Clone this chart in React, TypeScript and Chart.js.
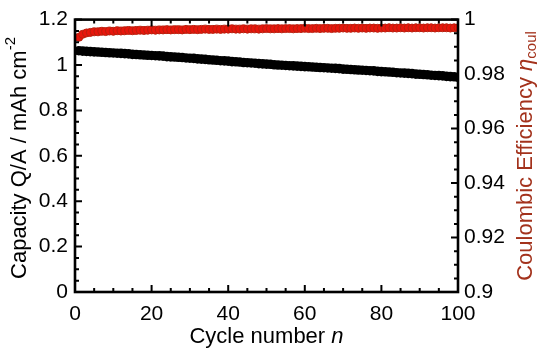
import React, { useEffect, useRef } from "react";
import { Chart, registerables } from "chart.js";

Chart.register(...registerables);

const cycles: number[] = Array.from({ length: 100 }, (_, i) => i + 1);

const capacity: number[] = [
  1.063, 1.061, 1.06, 1.059, 1.058, 1.057, 1.056, 1.055, 1.054, 1.053,
  1.052, 1.051, 1.05, 1.049, 1.047, 1.046, 1.045, 1.044, 1.043, 1.042,
  1.041, 1.04, 1.039, 1.037, 1.036, 1.035, 1.034, 1.033, 1.031, 1.03,
  1.029, 1.027, 1.026, 1.025, 1.023, 1.022, 1.021, 1.019, 1.018, 1.017,
  1.015, 1.014, 1.013, 1.011, 1.01, 1.009, 1.008, 1.006, 1.005, 1.004,
  1.003, 1.001, 1.0, 0.999, 0.998, 0.997, 0.996, 0.995, 0.994, 0.993,
  0.992, 0.991, 0.99, 0.989, 0.988, 0.987, 0.986, 0.985, 0.984, 0.982,
  0.981, 0.98, 0.979, 0.978, 0.977, 0.976, 0.975, 0.974, 0.972, 0.971,
  0.97, 0.969, 0.968, 0.966, 0.965, 0.964, 0.963, 0.962, 0.96, 0.959,
  0.958, 0.957, 0.955, 0.954, 0.953, 0.952, 0.95, 0.949, 0.948, 0.946,
];

const efficiency: number[] = [
  0.9935, 0.9946, 0.9951, 0.9953, 0.9955, 0.9955, 0.9957, 0.9956, 0.9958, 0.9957,
  0.9959, 0.9958, 0.9959, 0.996, 0.9959, 0.996, 0.9961, 0.996, 0.9961, 0.9962,
  0.9961, 0.9962, 0.9962, 0.9963, 0.9962, 0.9963, 0.9963, 0.9962, 0.9964, 0.9963,
  0.9964, 0.9963, 0.9964, 0.9965, 0.9964, 0.9964, 0.9965, 0.9964, 0.9965, 0.9965,
  0.9966, 0.9965, 0.9965, 0.9966, 0.9965, 0.9966, 0.9966, 0.9965, 0.9966, 0.9967,
  0.9966, 0.9966, 0.9967, 0.9966, 0.9967, 0.9967, 0.9966, 0.9967, 0.9967, 0.9968,
  0.9967, 0.9967, 0.9968, 0.9967, 0.9968, 0.9968, 0.9967, 0.9968, 0.9968, 0.9969,
  0.9968, 0.9968, 0.9969, 0.9968, 0.9969, 0.9968, 0.9969, 0.9969, 0.9968, 0.9969,
  0.9969, 0.997, 0.9969, 0.9969, 0.997, 0.9969, 0.997, 0.9969, 0.997, 0.997,
  0.9969, 0.997, 0.997, 0.9969, 0.997, 0.997, 0.997, 0.9969, 0.997, 0.997,
];

const xTicks: number[] = [0, 20, 40, 60, 80, 100];
const capTicks: number[] = [0, 0.2, 0.4, 0.6, 0.8, 1, 1.2];
const ceTicks: number[] = [0.9, 0.92, 0.94, 0.96, 0.98, 1];

const FONT = "'Liberation Sans', Arial, sans-serif";
const TITLE_RED = "#a3321c";
const TICK_SIZE = 21;
const TITLE_SIZE = 22;

function drawParts(ctx: any, parts: [string, string, number][], cx: number, cy: number, rot: number, color: string) {
  ctx.save();
  ctx.translate(cx, cy);
  ctx.rotate(rot);
  ctx.fillStyle = color;
  ctx.textBaseline = "middle";
  let total = 0;
  parts.forEach(([t, f]) => { ctx.font = f; total += ctx.measureText(t).width; });
  let p = -total / 2;
  parts.forEach(([t, f, dy]) => {
    ctx.font = f;
    ctx.fillText(t, p, dy);
    p += ctx.measureText(t).width;
  });
  ctx.restore();
}

const framePlugin = {
  id: "framePlugin",
  afterDraw(chart: any) {
    const { ctx, chartArea: a, scales } = chart;
    const x = scales.x, yl = scales.y, yr = scales.y1;
    ctx.save();
    ctx.strokeStyle = "#000";
    ctx.lineWidth = 2.6;
    ctx.strokeRect(a.left, a.top, a.right - a.left, a.bottom - a.top);
    ctx.lineWidth = 2;
    ctx.beginPath();
    for (let v = 0; v <= 100; v += 5) {
      const px = x.getPixelForValue(v);
      const len = v % 20 === 0 ? 7 : 4;
      ctx.moveTo(px, a.bottom);
      ctx.lineTo(px, a.bottom - len);
      ctx.moveTo(px, a.top);
      ctx.lineTo(px, a.top + len);
    }
    for (let i = 0; i <= 24; i++) {
      const py = yl.getPixelForValue(i * 0.05);
      const len = i % 4 === 0 ? 7 : 4;
      ctx.moveTo(a.left, py);
      ctx.lineTo(a.left + len, py);
    }
    for (let i = 0; i <= 20; i++) {
      const py = yr.getPixelForValue(0.9 + i * 0.005);
      const len = i % 4 === 0 ? 7 : 4;
      ctx.moveTo(a.right, py);
      ctx.lineTo(a.right - len, py);
    }
    ctx.stroke();

    const cx = (a.left + a.right) / 2;
    drawParts(ctx, [
      ["Cycle number ", `${TITLE_SIZE}px ${FONT}`, 0],
      ["n", `italic ${TITLE_SIZE}px ${FONT}`, 0],
    ], cx, 337, 0, "#000");

    drawParts(ctx, [
      ["Capacity Q/A / mAh cm", `${TITLE_SIZE}px ${FONT}`, 0],
      ["-2", `15px ${FONT}`, -9],
    ], 20, 158, -Math.PI / 2, "#000");

    drawParts(ctx, [
      ["Coulombic Efficiency ", `${TITLE_SIZE}px ${FONT}`, 0],
      ["\u03b7", `italic ${TITLE_SIZE}px ${FONT}`, 0],
      ["coul", `15px ${FONT}`, 6],
    ], 526, 156, -Math.PI / 2, TITLE_RED);
    ctx.restore();
  },
};

export default function App() {
  const ref = useRef<HTMLCanvasElement | null>(null);
  useEffect(() => {
    if (!ref.current) return;
    const chart = new Chart(ref.current, {
      type: "scatter",
      data: {
        datasets: [
          {
            label: "Capacity",
            data: cycles.map((c, i) => ({ x: c, y: capacity[i] })),
            yAxisID: "y",
            backgroundColor: "#000000",
            borderColor: "#000000",
            pointRadius: 4.8,
            pointBorderWidth: 0,
            showLine: false,
            clip: 0,
          },
          {
            label: "Coulombic efficiency",
            data: cycles.map((c, i) => ({ x: c, y: efficiency[i] })),
            yAxisID: "y1",
            backgroundColor: "#e8160c",
            borderColor: "#b8200e",
            pointRadius: 4,
            pointBorderWidth: 1,
            showLine: false,
            clip: 0,
          },
        ],
      },
      options: {
        responsive: false,
        animation: false,
        layout: { padding: { top: 14, left: 0, right: 0, bottom: 0 } },
        plugins: { legend: { display: false }, tooltip: { enabled: false } },
        scales: {
          x: {
            type: "linear",
            min: 0,
            max: 100,
            afterBuildTicks: (s: any) => { s.ticks = xTicks.map((v) => ({ value: v })); },
            afterFit: (s: any) => { s.height = 64; },
            grid: { display: false, drawTicks: false },
            border: { display: false },
            ticks: { color: "#000", font: { family: FONT, size: TICK_SIZE }, padding: 10, maxRotation: 0 },
          },
          y: {
            type: "linear",
            position: "left",
            min: 0,
            max: 1.2,
            afterBuildTicks: (s: any) => { s.ticks = capTicks.map((v) => ({ value: v })); },
            afterFit: (s: any) => { s.width = 75; },
            grid: { display: false, drawTicks: false },
            border: { display: false },
            ticks: {
              color: "#000",
              font: { family: FONT, size: TICK_SIZE },
              padding: 7,
              callback: (v: any) => String(Math.round(Number(v) * 100) / 100),
            },
          },
          y1: {
            type: "linear",
            position: "right",
            min: 0.9,
            max: 1,
            afterBuildTicks: (s: any) => { s.ticks = ceTicks.map((v) => ({ value: v })); },
            afterFit: (s: any) => { s.width = 92; },
            grid: { display: false, drawTicks: false },
            border: { display: false },
            ticks: {
              color: "#000",
              font: { family: FONT, size: TICK_SIZE },
              padding: 6,
              callback: (v: any) => String(Math.round(Number(v) * 1000) / 1000),
            },
          },
        },
      },
      plugins: [framePlugin],
    });
    return () => chart.destroy();
  }, []);
  return (
    <div style={{ position: "fixed", left: 0, top: 0, width: 550, height: 356, background: "#fff" }}>
      <canvas ref={ref} width={550} height={356} />
    </div>
  );
}
